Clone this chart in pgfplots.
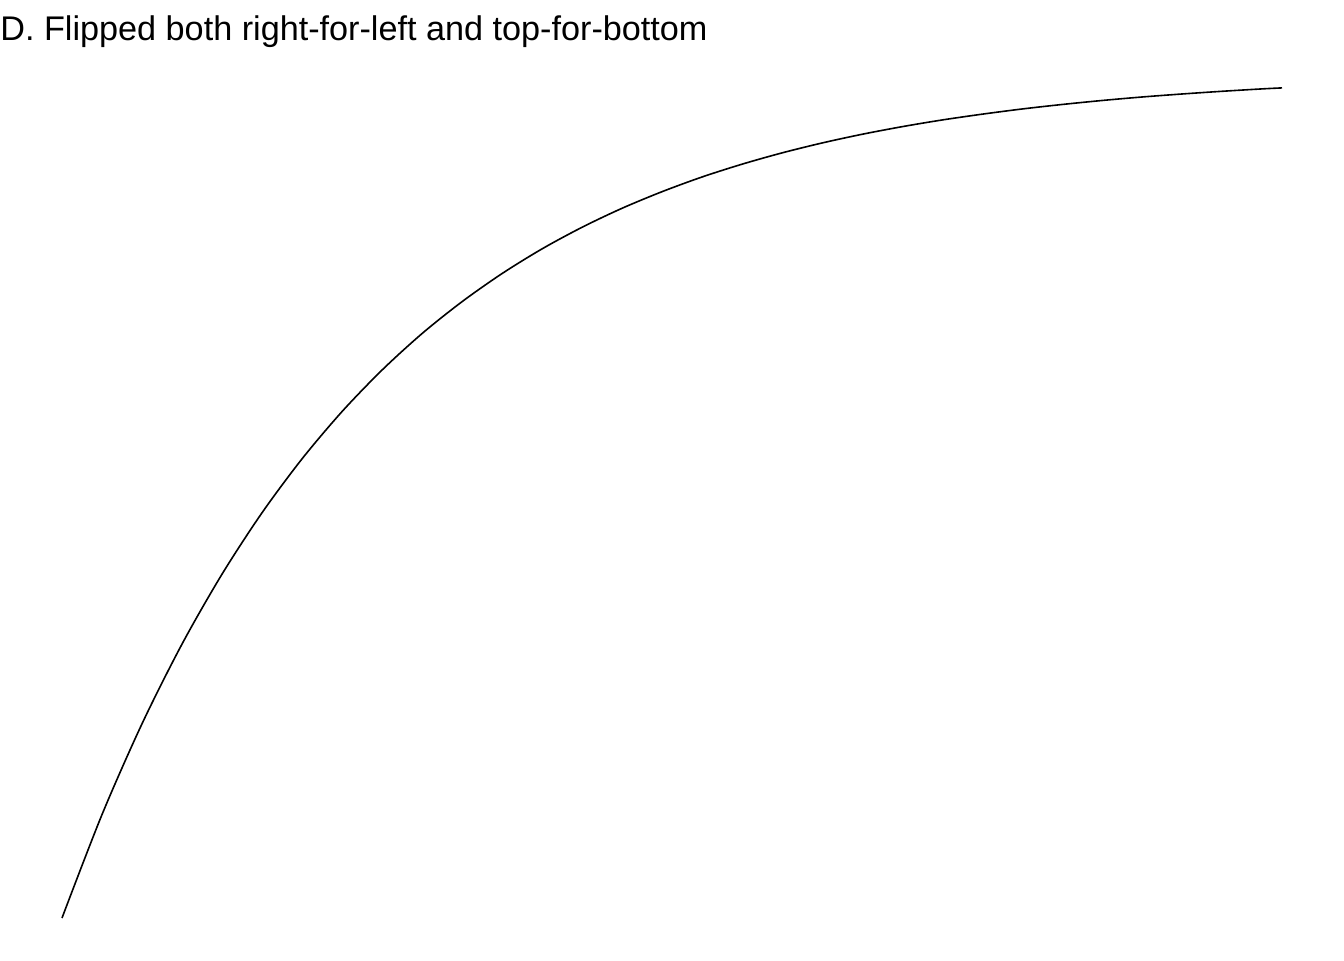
\documentclass[border=0pt]{standalone}
\usepackage{pgfplots}
\pgfplotsset{compat=1.18}
\usepackage{fontspec}
\setmainfont{Liberation Sans}
\begin{document}
\begin{tikzpicture}
\begin{axis}[hide axis, scale only axis, width=672pt, height=480pt,
  xmin=0, xmax=1344, ymin=0, ymax=960, clip=false]
\path (axis cs:0,0) rectangle (axis cs:1344,960);
\addplot[black, line width=0.8pt, smooth, tension=0.5] coordinates {
(62,42.0) (102,145.4) (142,236.2) (182,315.9) (222,385.8) (262,447.2)
(302,501.1) (342,548.4) (382,589.9) (422,626.4) (462,658.3) (502,686.4)
(542,711.1) (582,732.7) (622,751.7) (662,768.3) (702,783.0) (742,795.8)
(782,807.1) (822,817.0) (862,825.7) (902,833.3) (942,840.0) (982,845.8)
(1022,851.0) (1062,855.5) (1102,859.5) (1142,863.0) (1182,866.0)
(1222,868.7) (1262,871.1) (1282,872.1)};
\node[anchor=base west, inner sep=0pt, font=\fontsize{17.1pt}{20pt}\selectfont] at (axis cs:0,919) {D. Flipped both right-for-left and top-for-bottom};
\end{axis}
\end{tikzpicture}
\end{document}
